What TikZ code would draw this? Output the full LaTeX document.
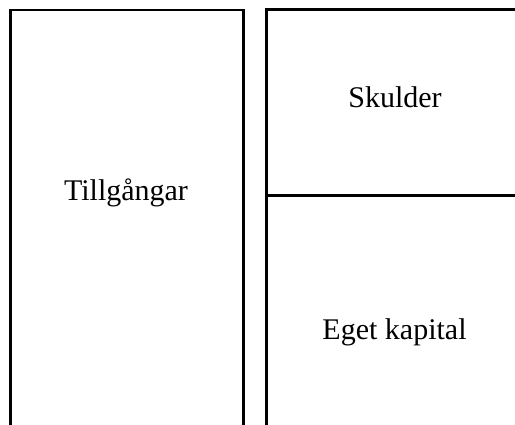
\documentclass[tikz,border=0pt]{standalone}
\usepackage{fontspec}
\setmainfont{Liberation Serif}
\begin{document}
\begin{tikzpicture}[x=0.75pt,y=-0.75pt]
    \tikzset{box/.style={line width=1.6pt}, lbl/.style={anchor=base,font=\fontsize{22.5}{27}\selectfont}}
    \useasboundingbox (0,0) rectangle (515,425);
    % assets column
    \draw[box] (10.5,430) -- (10.5,10) -- (243.5,10) -- (243.5,430);
    % liabilities and equity column
    \draw[box] (266.5,430) -- (266.5,9.5) -- (520,9.5);
    \draw[box] (266.5,195.5) -- (520,195.5);
    \node[lbl] (tillg) at (126,200) {Tillgångar};
    \node[lbl] (skuld) at (395,107) {Skulder};
    \node[lbl] (eget) at (394.5,339) {Eget kapital};
\end{tikzpicture}
\end{document}
